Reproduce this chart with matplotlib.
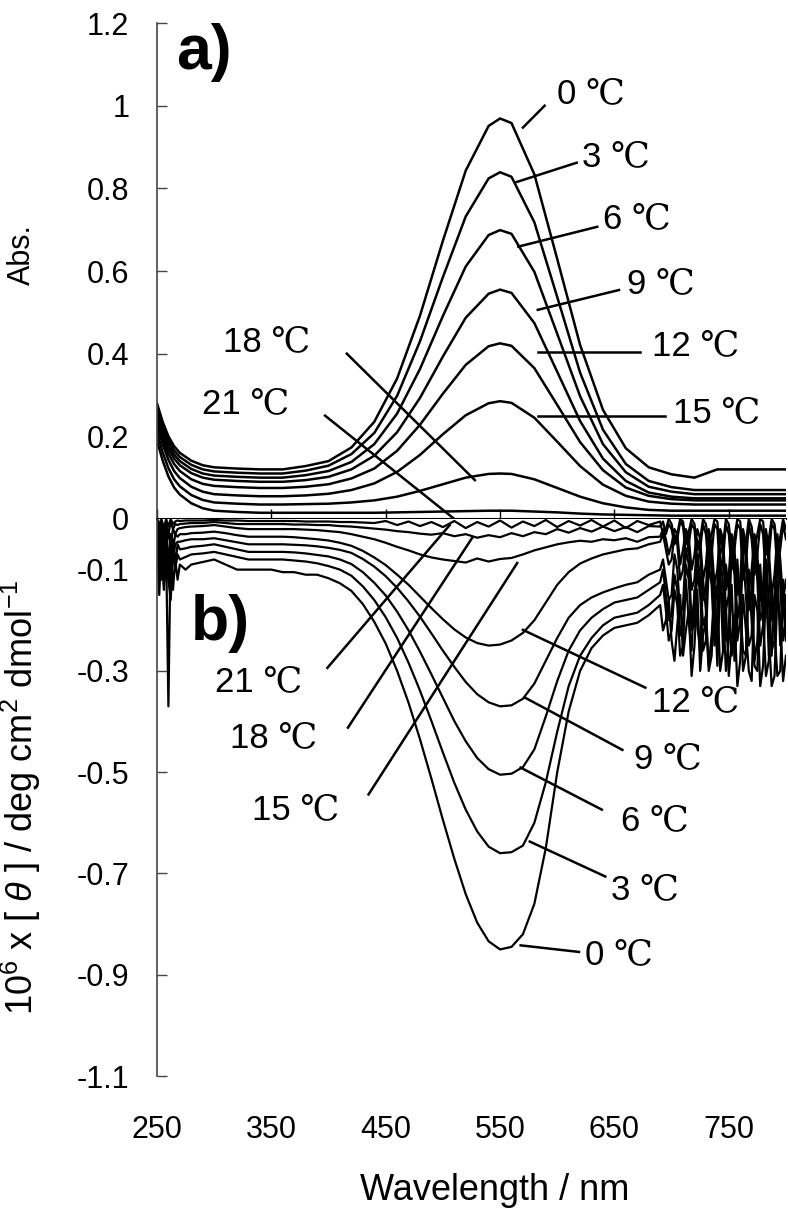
import matplotlib
matplotlib.use("Agg")
import matplotlib.pyplot as plt

plt.rcParams['font.family'] = ['Liberation Sans', 'DejaVu Serif']
plt.rcParams['mathtext.fontset'] = 'custom'
plt.rcParams['mathtext.rm'] = 'Liberation Sans'
plt.rcParams['mathtext.it'] = 'Liberation Sans:italic'

temps = ['0', '3', '6', '9', '12', '15', '18', '21']

# a) absorbance spectra
wl_abs = [250, 255, 260, 265, 270, 280, 290, 300, 320, 340, 360, 380, 400, 420,
          440, 460, 480, 500, 520, 540, 550, 560, 580, 600, 620, 640, 660, 680,
          700, 720, 740, 760, 780, 800]
abs_0 = [0.28, 0.235, 0.20, 0.176, 0.16, 0.141, 0.130, 0.125, 0.122, 0.12, 0.12, 0.128, 0.14, 0.173,
         0.235, 0.34, 0.492, 0.673, 0.843, 0.951, 0.969, 0.958, 0.834, 0.629, 0.421, 0.264, 0.171, 0.125,
         0.108, 0.10, 0.12, 0.12, 0.12, 0.12]
abs_3 = [0.27, 0.225, 0.19, 0.166, 0.15, 0.131, 0.12, 0.115, 0.112, 0.11, 0.11, 0.117, 0.129, 0.157,
         0.208, 0.298, 0.43, 0.585, 0.732, 0.824, 0.839, 0.828, 0.718, 0.537, 0.354, 0.216, 0.133, 0.092,
         0.077, 0.07, 0.07, 0.07, 0.07, 0.07]
abs_6 = [0.26, 0.215, 0.18, 0.156, 0.14, 0.121, 0.11, 0.105, 0.102, 0.10, 0.10, 0.106, 0.116, 0.138,
         0.181, 0.255, 0.363, 0.491, 0.611, 0.687, 0.699, 0.69, 0.598, 0.448, 0.297, 0.181, 0.113, 0.078,
         0.066, 0.06, 0.06, 0.06, 0.06, 0.06]
abs_9 = [0.25, 0.205, 0.17, 0.146, 0.13, 0.111, 0.10, 0.095, 0.092, 0.09, 0.09, 0.094, 0.102, 0.12,
         0.153, 0.21, 0.293, 0.393, 0.487, 0.545, 0.555, 0.547, 0.474, 0.356, 0.237, 0.146, 0.092, 0.064,
         0.054, 0.05, 0.05, 0.05, 0.05, 0.05]
abs_12 = [0.24, 0.194, 0.158, 0.133, 0.116, 0.096, 0.085, 0.08, 0.077, 0.075, 0.075, 0.078, 0.084, 0.098,
          0.122, 0.165, 0.228, 0.303, 0.373, 0.418, 0.425, 0.419, 0.365, 0.276, 0.186, 0.118, 0.076, 0.056,
          0.048, 0.045, 0.045, 0.045, 0.045, 0.045]
abs_15 = [0.23, 0.181, 0.143, 0.116, 0.099, 0.078, 0.066, 0.06, 0.057, 0.055, 0.055, 0.057, 0.061, 0.07,
          0.086, 0.114, 0.155, 0.205, 0.251, 0.28, 0.285, 0.281, 0.245, 0.187, 0.128, 0.083, 0.056, 0.042,
          0.037, 0.035, 0.035, 0.035, 0.035, 0.035]
abs_18 = [0.21, 0.161, 0.123, 0.096, 0.079, 0.058, 0.046, 0.04, 0.037, 0.035, 0.035, 0.036, 0.037, 0.04,
          0.045, 0.054, 0.068, 0.084, 0.10, 0.109, 0.11, 0.109, 0.096, 0.075, 0.054, 0.038, 0.028, 0.022,
          0.02, 0.02, 0.02, 0.02, 0.02, 0.02]
abs_21 = [0.19, 0.141, 0.103, 0.076, 0.059, 0.038, 0.026, 0.02, 0.017, 0.015, 0.015, 0.015, 0.015, 0.015,
          0.015, 0.016, 0.017, 0.018, 0.019, 0.02, 0.02, 0.02, 0.018, 0.016, 0.013, 0.011, 0.01, 0.009,
          0.008, 0.008, 0.008, 0.008, 0.008, 0.008]

# b) CD spectra (10^6 x [theta])
wl_cd = [250, 252, 254, 256, 258, 260, 262, 264, 266, 268, 270, 275,
         280, 290, 300, 310, 320, 330, 340, 350, 360, 370, 380, 390, 400, 410,
         420, 430, 440, 450, 460, 470, 480, 490, 500, 510, 520, 530, 540, 550,
         560, 570, 580, 590, 600, 610, 620, 630, 640, 650, 660, 670, 680,
         690, 692.5, 695, 697.5, 700, 702.5, 705, 707.5, 710, 712.5, 715, 717.5,
         720, 722.5, 725, 727.5, 730, 732.5, 735, 737.5, 740, 742.5, 745, 747.5,
         750, 752.5, 755, 757.5, 760, 762.5, 765, 767.5, 770, 772.5, 775, 777.5,
         780, 782.5, 785, 787.5, 790, 792.5, 795, 797.5, 800]
cd_0 = [-0.02, -0.15, -0.04, -0.13, -0.06, -0.37, -0.05, -0.14, -0.08, -0.12, -0.09, -0.1,
        -0.09, -0.085, -0.08, -0.09, -0.1, -0.1, -0.1, -0.1, -0.105, -0.105, -0.11, -0.11, -0.117, -0.127,
        -0.142, -0.168, -0.203, -0.246, -0.30, -0.363, -0.435, -0.513, -0.594, -0.671, -0.741, -0.797, -0.834, -0.85,
        -0.845, -0.82, -0.76, -0.65, -0.50, -0.38, -0.30, -0.255, -0.23, -0.215, -0.21, -0.205, -0.19,
        -0.17, -0.22, -0.2, -0.16, -0.24, -0.28, -0.21, -0.15, -0.27, -0.22, -0.18, -0.31,
        -0.25, -0.14, -0.3, -0.23, -0.2, -0.3, -0.27, -0.13, -0.16, -0.3, -0.26, -0.17,
        -0.31, -0.24, -0.19, -0.33, -0.28, -0.15, -0.22, -0.3, -0.32, -0.15, -0.18, -0.33,
        -0.29, -0.14, -0.23, -0.33, -0.31, -0.15, -0.2, -0.32, -0.27]
cd_3 = [-0.01, -0.11, -0.03, -0.14, -0.05, -0.12, -0.16, -0.06, -0.1, -0.07, -0.08, -0.075,
        -0.07, -0.068, -0.065, -0.07, -0.075, -0.08, -0.08, -0.08, -0.08, -0.082, -0.084, -0.0875, -0.093, -0.10,
        -0.112, -0.133, -0.16, -0.194, -0.235, -0.284, -0.339, -0.399, -0.461, -0.521, -0.574, -0.617, -0.647, -0.66,
        -0.658, -0.645, -0.60, -0.52, -0.42, -0.33, -0.27, -0.235, -0.21, -0.195, -0.19, -0.185, -0.17,
        -0.15, -0.13, -0.18, -0.24, -0.22, -0.14, -0.17, -0.27, -0.25, -0.12, -0.2, -0.26,
        -0.14, -0.21, -0.26, -0.12, -0.18, -0.29, -0.23, -0.14, -0.29, -0.12, -0.17, -0.3,
        -0.24, -0.13, -0.28, -0.2, -0.16, -0.3, -0.27, -0.12, -0.2, -0.29, -0.3, -0.12,
        -0.19, -0.31, -0.28, -0.14, -0.22, -0.31, -0.3, -0.15, -0.24]
cd_6 = [-0.005, -0.09, -0.12, -0.03, -0.1, -0.06, -0.13, -0.04, -0.09, -0.05, -0.06, -0.058,
        -0.055, -0.053, -0.05, -0.055, -0.06, -0.065, -0.065, -0.065, -0.065, -0.066, -0.068, -0.071, -0.074, -0.08,
        -0.089, -0.105, -0.126, -0.151, -0.183, -0.22, -0.262, -0.307, -0.353, -0.399, -0.439, -0.472, -0.494, -0.505,
        -0.503, -0.49, -0.455, -0.39, -0.32, -0.26, -0.22, -0.195, -0.178, -0.165, -0.16, -0.155, -0.14,
        -0.125, -0.1, -0.15, -0.2, -0.19, -0.11, -0.14, -0.23, -0.2, -0.09, -0.12, -0.22,
        -0.21, -0.1, -0.15, -0.26, -0.24, -0.09, -0.13, -0.25, -0.22, -0.1, -0.26, -0.09,
        -0.14, -0.27, -0.23, -0.08, -0.18, -0.26, -0.27, -0.1, -0.13, -0.28, -0.24, -0.09,
        -0.2, -0.11, -0.27, -0.27, -0.15, -0.1, -0.25, -0.12, -0.21]
cd_9 = [0.0, -0.07, -0.02, -0.1, -0.04, -0.12, -0.03, -0.08, -0.05, -0.045, -0.045, -0.042,
        -0.04, -0.04, -0.038, -0.042, -0.046, -0.05, -0.05, -0.05, -0.05, -0.051, -0.052, -0.054, -0.057, -0.061,
        -0.067, -0.079, -0.094, -0.113, -0.136, -0.163, -0.193, -0.226, -0.26, -0.292, -0.322, -0.346, -0.362, -0.37,
        -0.368, -0.355, -0.325, -0.28, -0.235, -0.195, -0.17, -0.155, -0.145, -0.137, -0.13, -0.125, -0.11,
        -0.1, -0.08, -0.12, -0.16, -0.15, -0.07, -0.1, -0.19, -0.17, -0.06, -0.09, -0.2,
        -0.16, -0.07, -0.12, -0.21, -0.19, -0.06, -0.1, -0.22, -0.18, -0.07, -0.13, -0.24,
        -0.22, -0.06, -0.11, -0.24, -0.2, -0.07, -0.15, -0.25, -0.23, -0.06, -0.12, -0.25,
        -0.21, -0.08, -0.16, -0.26, -0.24, -0.07, -0.13, -0.24, -0.2]
cd_12 = [0.0, -0.05, -0.01, -0.08, -0.02, -0.09, -0.03, -0.06, -0.03, -0.035, -0.03, -0.03,
         -0.028, -0.027, -0.025, -0.028, -0.032, -0.035, -0.035, -0.035, -0.035, -0.036, -0.038, -0.04, -0.0425, -0.047,
         -0.053, -0.063, -0.076, -0.091, -0.11, -0.13, -0.153, -0.176, -0.198, -0.218, -0.234, -0.245, -0.25, -0.248,
         -0.24, -0.225, -0.2, -0.165, -0.13, -0.105, -0.088, -0.078, -0.07, -0.065, -0.06, -0.058, -0.05,
         -0.045, -0.03, -0.06, -0.09, -0.08, -0.03, -0.05, -0.12, -0.1, -0.03, -0.06, -0.14,
         -0.12, -0.04, -0.07, -0.16, -0.14, -0.03, -0.08, -0.17, -0.13, -0.03, -0.06, -0.18,
         -0.15, -0.04, -0.09, -0.19, -0.17, -0.03, -0.08, -0.18, -0.14, -0.04, -0.1, -0.2,
         -0.18, -0.03, -0.09, -0.2, -0.16, -0.04, -0.11, -0.19, -0.15]
cd_15 = [0.0, -0.03, -0.06, -0.01, -0.07, -0.02, -0.05, -0.02, -0.03, -0.02, -0.018, -0.016,
         -0.015, -0.014, -0.012, -0.015, -0.018, -0.02, -0.02, -0.02, -0.02, -0.02, -0.021, -0.022, -0.024, -0.026,
         -0.03, -0.035, -0.04, -0.047, -0.055, -0.062, -0.07, -0.076, -0.08, -0.083, -0.086, -0.078, -0.084, -0.079,
         -0.077, -0.07, -0.062, -0.056, -0.05, -0.046, -0.043, -0.045, -0.04, -0.042, -0.038, -0.045, -0.036,
         -0.035, -0.02, -0.04, -0.07, -0.05, -0.02, -0.03, -0.09, -0.06, -0.02, -0.035, -0.1,
         -0.07, -0.02, -0.04, -0.12, -0.09, -0.02, -0.05, -0.13, -0.1, -0.02, -0.04, -0.14,
         -0.11, -0.03, -0.06, -0.15, -0.12, -0.02, -0.05, -0.14, -0.1, -0.03, -0.07, -0.16,
         -0.13, -0.02, -0.06, -0.15, -0.11, -0.03, -0.08, -0.16, -0.12]
cd_18 = [0.0, -0.02, -0.005, -0.04, -0.01, -0.03, -0.005, -0.02, -0.01, -0.012, -0.01, -0.009,
         -0.008, -0.008, -0.006, -0.008, -0.01, -0.01, -0.01, -0.01, -0.01, -0.011, -0.011, -0.012, -0.012, -0.014,
         -0.015, -0.017, -0.019, -0.021, -0.024, -0.026, -0.029, -0.031, -0.028, -0.034, -0.03, -0.037, -0.032, -0.036,
         -0.028, -0.034, -0.026, -0.03, -0.02, -0.027, -0.018, -0.025, -0.015, -0.024, -0.016, -0.026, -0.014,
         -0.015, -0.005, -0.03, -0.01, -0.02, -0.05, -0.04, -0.005, -0.015, -0.07, -0.05, -0.01,
         -0.02, -0.09, -0.06, -0.01, -0.03, -0.1, -0.07, -0.01, -0.02, -0.11, -0.08, -0.01,
         -0.03, -0.1, -0.06, -0.01, -0.02, -0.12, -0.09, -0.01, -0.04, -0.11, -0.07, -0.01,
         -0.03, -0.12, -0.08, -0.01, -0.02, -0.1, -0.06, -0.01, -0.04]
cd_21 = [0.0, -0.01, 0.0, -0.02, 0.0, -0.015, 0.0, -0.01, -0.005, -0.003, -0.004, -0.003,
         -0.003, -0.003, -0.002, -0.003, -0.003, -0.004, -0.004, -0.004, -0.004, -0.004, -0.005, -0.005, -0.005, -0.006,
         -0.006, -0.007, -0.008, -0.004, -0.012, -0.005, -0.014, -0.006, -0.016, -0.004, -0.018, -0.006, -0.015, -0.003,
         -0.017, -0.005, -0.014, -0.002, -0.016, -0.004, -0.013, -0.002, -0.015, -0.003, -0.018, -0.004, -0.012,
         -0.005, -0.03, -0.02, 0.0, -0.01, -0.04, -0.03, 0.0, -0.005, -0.05, -0.025, 0.0,
         -0.01, -0.06, -0.04, 0.0, -0.01, -0.05, -0.03, 0.0, -0.005, -0.07, -0.05, 0.0,
         -0.01, -0.06, -0.035, 0.0, -0.005, -0.07, -0.045, 0.0, -0.015, -0.06, -0.03, 0.0,
         -0.005, -0.07, -0.04, 0.0, -0.01, -0.06, -0.035, 0.0, -0.02]

abs_series = [abs_0, abs_3, abs_6, abs_9, abs_12, abs_15, abs_18, abs_21]
cd_series = [cd_0, cd_3, cd_6, cd_9, cd_12, cd_15, cd_18, cd_21]

abs_ticks = [0, 0.2, 0.4, 0.6, 0.8, 1.0, 1.2]
abs_ticklabels = ['0', '0.2', '0.4', '0.6', '0.8', '1', '1.2']
cd_ticks = [-0.1, -0.3, -0.5, -0.7, -0.9, -1.1]
cd_ticklabels = ['-0.1', '-0.3', '-0.5', '-0.7', '-0.9', '-1.1']
wl_ticks = [250, 350, 450, 550, 650, 750]

# label text position, leader start, leader end (data units)
abs_notes = [
    ('0', (600, 1.03), (589, 1.00), (570, 0.947)),
    ('3', (622, 0.876), (617, 0.862), (563, 0.814)),
    ('6', (640, 0.726), (635, 0.707), (566, 0.659)),
    ('9', (661, 0.569), (654, 0.554), (583, 0.506)),
    ('12', (683, 0.419), (672, 0.404), (583, 0.404)),
    ('15', (701, 0.257), (694, 0.25), (583, 0.25)),
    ('18', (308, 0.428), (416, 0.40), (528, 0.094)),
    ('21', (289, 0.28), (397, 0.25), (510, 0.0)),
]
cd_notes = [
    ('21', (301, -0.322), (399, -0.294), (506, -0.012)),
    ('18', (314, -0.432), (417, -0.412), (526, -0.036)),
    ('15', (333, -0.574), (435, -0.544), (565, -0.087)),
    ('12', (683, -0.361), (677, -0.333), (570, -0.219)),
    ('9', (667, -0.473), (657, -0.456), (572, -0.353)),
    ('6', (656, -0.596), (639, -0.574), (568, -0.491)),
    ('3', (647, -0.732), (642, -0.706), (576, -0.637)),
    ('0', (624, -0.86), (619, -0.855), (568, -0.842)),
]

fig = plt.figure(figsize=(7.88, 12.12), dpi=100)
ax1 = fig.add_axes([0.1992, 0.5718, 0.7982, 0.4092])
ax2 = fig.add_axes([0.1992, 0.1122, 0.7982, 0.4596])

for ys in abs_series:
    ax1.plot(wl_abs, ys, color='k', lw=1.8)
for ys in cd_series:
    ax2.plot(wl_cd, ys, color='k', lw=1.6)

for ax, notes in ((ax1, abs_notes), (ax2, cd_notes)):
    for t, (tx, ty), (x1, y1), (x2, y2) in notes:
        ax.plot([x1, x2], [y1, y2], color='k', lw=1.8)
        ax.text(tx, ty, t + ' \u2103', fontsize=25, ha='left', va='center')

ax1.text(267, 1.128, 'a)', fontsize=45, fontweight='bold', ha='left', va='center')
ax2.text(280, -0.207, 'b)', fontsize=45, fontweight='bold', ha='left', va='center')

ax1.set_xlim(250, 800)
ax1.set_ylim(0, 1.2)
ax2.set_xlim(250, 800)
ax2.set_ylim(-1.1, 0)

for ax in (ax1, ax2):
    ax.spines['top'].set_visible(False)
    ax.spines['right'].set_visible(False)
    ax.spines['left'].set_color('#444444')
    ax.spines['left'].set_linewidth(1.2)
    ax.set_xticks(wl_ticks)
    ax.tick_params(axis='y', direction='in', length=7, width=1, color='#444444',
                   labelsize=22, pad=20)
ax1.spines['bottom'].set_linewidth(1.5)
ax2.spines['bottom'].set_visible(False)

ax1.set_yticks(abs_ticks)
ax1.set_yticklabels(abs_ticklabels)
ax2.set_yticks(cd_ticks)
ax2.set_yticklabels(cd_ticklabels)

ax1.tick_params(axis='x', direction='in', length=7, width=1, labelbottom=False)
ax2.tick_params(axis='x', length=0, labelsize=22, pad=28)

fig.text(0.628, 0.018, 'Wavelength / nm', fontsize=26, ha='center', va='center')
fig.text(0.028, 0.79, 'Abs.', fontsize=22, rotation=90, ha='center', va='center')
fig.text(0.026, 0.342, r'10$^{6}$ x [ $\theta$ ] / deg cm$^{2}$ dmol$^{-1}$',
         fontsize=26, rotation=90, ha='center', va='center')

fig.savefig('out.png', dpi=100)
